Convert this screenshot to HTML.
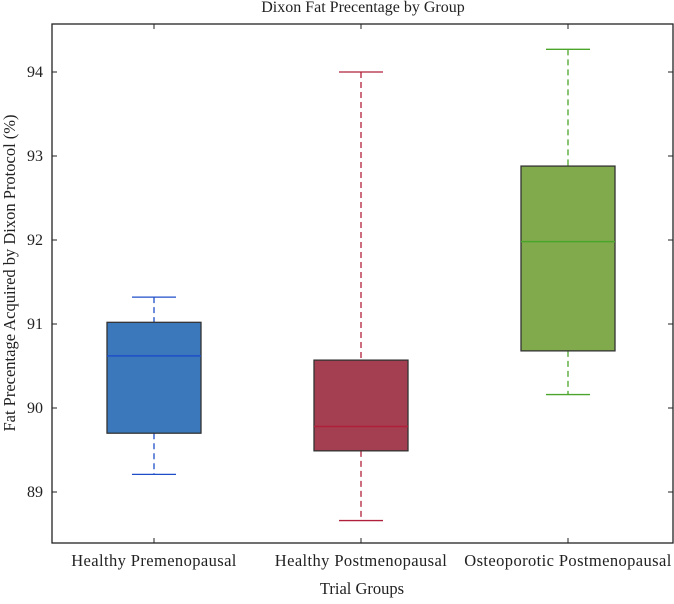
<!DOCTYPE html>
<html><head><meta charset="utf-8"><style>
body{margin:0;background:#fff;}
svg text{font-family:"Liberation Serif",serif;fill:#222;}
</style></head><body>
<svg width="674" height="599">
<g id="plot"></g>
</svg>
<script>
const categories=["Healthy Premenopausal","Healthy Postmenopausal","Osteoporotic Postmenopausal"];
const whiskerLow=[89.21,88.66,90.16];
const q1=[89.70,89.49,90.68];
const medians=[90.62,89.78,91.98];
const q3=[91.02,90.57,92.88];
const whiskerHigh=[91.32,94.0,94.27];
const yTicks=[89,90,91,92,93,94];
const fills=["#3a78bb","#a33f50","#80aa4c"];
const lines=["#1f4fc8","#b0203a","#4aa52a"];
const L=52,R=673,T=24,B=543;
function y(v){return 72+(94-v)*84;}
function x(i){return 154+i*207;}
const ns="http://www.w3.org/2000/svg";
const g=document.getElementById('plot');
function el(t,a,p){const e=document.createElementNS(ns,t);for(const k in a)e.setAttribute(k,a[k]);(p||g).appendChild(e);return e;}
let f=el('rect',{x:L,y:T,width:R-L,height:B-T,fill:'none',stroke:'#222','stroke-width':1.3});


yTicks.forEach(v=>{
 el('line',{x1:L,x2:L+5,y1:y(v),y2:y(v),stroke:'#222'});
 el('line',{x1:R-5,x2:R,y1:y(v),y2:y(v),stroke:'#222'});
 const t=el('text',{x:L-9,y:y(v)+5,'text-anchor':'end','font-size':16});t.textContent=v;
 
 
});
categories.forEach((c,i)=>{
 const cx=x(i);
 el('line',{x1:cx,x2:cx,y1:B,y2:B-5,stroke:'#222'});
 el('line',{x1:cx,x2:cx,y1:T,y2:T+5,stroke:'#222'});
 const w=el('g',{});
 
 
 el('line',{x1:cx,x2:cx,y1:y(whiskerHigh[i]),y2:y(q3[i]),stroke:lines[i],'stroke-width':1.3,'stroke-dasharray':'6,4'},w);
 el('line',{x1:cx,x2:cx,y1:y(q1[i]),y2:y(whiskerLow[i]),stroke:lines[i],'stroke-width':1.3,'stroke-dasharray':'6,4'},w);
 el('line',{x1:cx-22,x2:cx+22,y1:y(whiskerHigh[i]),y2:y(whiskerHigh[i]),stroke:lines[i],'stroke-width':1.3},w);
 el('line',{x1:cx-22,x2:cx+22,y1:y(whiskerLow[i]),y2:y(whiskerLow[i]),stroke:lines[i],'stroke-width':1.3},w);
 const b=el('rect',{x:cx-47,y:y(q3[i]),width:94,height:y(q1[i])-y(q3[i]),fill:fills[i],stroke:'#333','stroke-width':1.3});
 
 
 const m=el('line',{x1:cx-47,x2:cx+47,y1:y(medians[i]),y2:y(medians[i]),stroke:lines[i],'stroke-width':1.5});
 
 
 const t=el('text',{x:cx,y:566,'text-anchor':'middle','font-size':16.5,'letter-spacing':0.4});t.textContent=c;
 
 
});
</script>
<svg width="674" height="599" style="position:absolute;left:0;top:0">
<text x="363" y="12" text-anchor="middle" font-size="16">Dixon Fat Precentage by Group</text>
<text x="362" y="594" text-anchor="middle" font-size="16.5">Trial Groups</text>
<text transform="translate(15,273) rotate(-90)" text-anchor="middle" font-size="16.5">Fat Precentage Acquired by Dixon Protocol (%)</text>
</svg>
</body></html>
